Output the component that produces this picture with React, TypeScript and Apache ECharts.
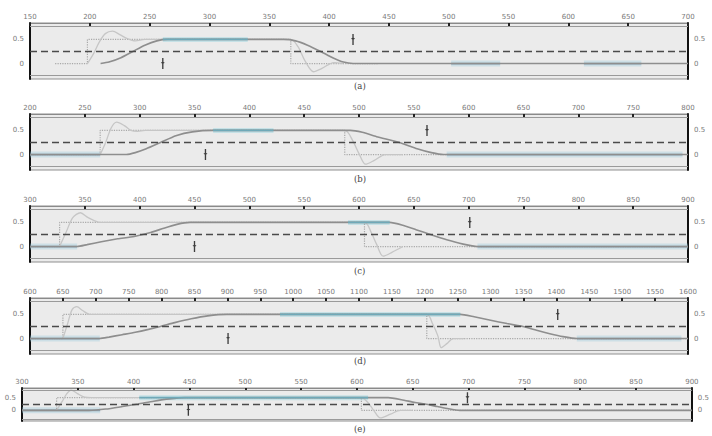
import React, { useEffect, useRef } from "react";
import * as echarts from "echarts";

// ---- data ----
const captions = ["(a)", "(b)", "(c)", "(d)", "(e)"];
const xMins = [150, 200, 300, 600, 300];
const xMaxs = [700, 800, 900, 1600, 900];
const levelValues = [0, 0.5];
const levelLabels = ["0", "0.5"];
const midLevel = 0.25;

const rampA = [[209,0],[216,0.03],[226,0.12],[236,0.25],[246,0.38],[256,0.47],[265,0.5],[362,0.5],[372,0.47],[382,0.38],[393,0.25],[403,0.12],[412,0.03],[420,0],[700,0]];
const oscA = [[198,0],[203,0.2],[208,0.45],[213,0.62],[219,0.67],[225,0.6],[231,0.52],[238,0.47],[246,0.5],[368,0.5],[374,0.35],[380,0.05],[387,-0.17],[394,-0.1],[404,0.02],[412,0]];
const refA = [[171,0],[198,0],[198,0.5],[368,0.5],[368,0],[441,0]];
const glowA = [[[261,0.5],[332,0.5]]];
const bandA = [[[502,0],[543,0]],[[613,0],[661,0]]];
const markA = [[261,0],[420,0.5]];

const rampB = [[200,0],[288,0],[296,0.04],[306,0.12],[319,0.25],[333,0.39],[348,0.47],[367,0.5],[492,0.5],[503,0.46],[516,0.37],[537,0.25],[553,0.12],[566,0.04],[577,0],[800,0]];
const oscB = [[264,0],[269,0.25],[274,0.55],[279,0.67],[286,0.6],[292,0.5],[298,0.48],[305,0.5],[487,0.5],[494,0.3],[500,0.02],[506,-0.2],[514,-0.12],[524,0],[540,0]];
const refB = [[200,0],[264,0],[264,0.5],[487,0.5],[487,0],[580,0]];
const glowB = [[[367,0.5],[422,0.5]]];
const bandB = [[[200,0],[264,0]],[[580,0],[795,0]]];
const markB = [[360,0],[562,0.5]];

const rampC = [[300,0],[343,0],[352,0.04],[365,0.1],[380,0.16],[395,0.21],[410,0.29],[422,0.38],[434,0.46],[446,0.5],[628,0.5],[640,0.44],[652,0.35],[665,0.25],[680,0.14],[695,0.05],[708,0],[900,0]];
const oscC = [[327,0],[333,0.3],[339,0.6],[346,0.7],[353,0.6],[364,0.5],[605,0.5],[611,0.3],[616,0.05],[622,-0.2],[630,-0.12],[640,0]];
const refC = [[300,0],[327,0],[327,0.5],[605,0.5],[605,0],[900,0]];
const glowC = [[[590,0.5],[628,0.5]]];
const bandC = [[[300,0],[343,0]],[[708,0],[900,0]]];
const markC = [[450,0],[701,0.5]];

const rampD = [[600,0],[706,0],[720,0.03],[740,0.08],[760,0.13],[780,0.19],[798,0.25],[820,0.33],[845,0.41],[870,0.47],[899,0.5],[1254,0.5],[1275,0.45],[1300,0.38],[1325,0.31],[1349,0.25],[1370,0.17],[1390,0.1],[1410,0.04],[1431,0],[1600,0]];
const oscD = [[650,0],[657,0.3],[664,0.6],[671,0.66],[680,0.58],[691,0.5],[1203,0.5],[1212,0.3],[1220,0.05],[1225,-0.19],[1234,-0.1],[1243,0],[1260,0]];
const refD = [[600,0],[650,0],[650,0.5],[1203,0.5],[1203,0],[1600,0]];
const glowD = [[[980,0.5],[1254,0.5]]];
const bandD = [[[600,0],[706,0]],[[1431,0],[1590,0]]];
const markD = [[901,0],[1402,0.5]];

const rampE = [[300,0],[360,0],[375,0.05],[390,0.15],[404,0.25],[418,0.36],[432,0.45],[446,0.5],[628,0.5],[640,0.42],[652,0.31],[661,0.25],[672,0.15],[682,0.06],[692,0],[900,0]];
const oscE = [[331,0],[336,0.35],[340,0.65],[344,0.8],[350,0.65],[356,0.52],[362,0.5],[604,0.5],[610,0.3],[615,0],[621,-0.3],[630,-0.15],[639,0],[650,0]];
const refE = [[300,0],[331,0],[331,0.5],[604,0.5],[604,0],[900,0]];
const glowE = [[[405,0.5],[610,0.5]]];
const bandE = [[[300,0],[370,0]]];
const markE = [[449,0],[699,0.5]];

const ramps = [rampA, rampB, rampC, rampD, rampE];
const oscs = [oscA, oscB, oscC, oscD, oscE];
const refs = [refA, refB, refC, refD, refE];
const glows = [glowA, glowB, glowC, glowD, glowE];
const bands = [bandA, bandB, bandC, bandD, bandE];
const marks = [markA, markB, markC, markD, markE];

// ---- layout ----
const gridTops = [23, 114, 206, 298, 388];
const gridHeights = [56, 56, 56, 56, 33];
const gridLefts = [30, 30, 30, 30, 22];
const gridRights = [24, 24, 24, 24, 12];
const yMins = [-0.32, -0.32, -0.32, -0.32, -0.42];
const yMaxs = [0.84, 0.84, 0.84, 0.84, 0.88];
const innerTop = [0.77, 0.77, 0.77, 0.77, 0.81];
const innerBottom = [-0.25, -0.25, -0.25, -0.25, -0.35];
const captionTops = [81, 174, 266, 356, 424];

const markerPath = "path://M2,0 L4,0 L4,5 L6,6 L4,7 L4,14 L2,14 L2,7 L0,6 L2,5 Z";

function buildOption() {
  const grid: any[] = [];
  const xAxis: any[] = [];
  const yAxis: any[] = [];
  const series: any[] = [];
  const title: any[] = [];
  const axisFont = { fontSize: 7, color: "#7a7a7a", fontFamily: "DejaVu Sans" };

  for (let i = 0; i < 5; i++) {
    grid.push({
      left: gridLefts[i], right: gridRights[i], top: gridTops[i], height: gridHeights[i],
      show: true, backgroundColor: "#ebebeb", borderColor: "#8f8f8f", borderWidth: 1,
    });
    xAxis.push({
      type: "value", gridIndex: i, position: "top", min: xMins[i], max: xMaxs[i], interval: 50,
      axisLine: { show: true, onZero: false, lineStyle: { color: "#8a8a8a", width: 1 } },
      axisTick: { show: true, inside: true, length: 3, lineStyle: { color: "#222", width: 2 } },
      axisLabel: {
        ...axisFont, margin: 3, showMinLabel: true, showMaxLabel: true,
        formatter: (v: number) => String(v),
      },
      splitLine: { show: false },
    });
    const yBase = {
      type: "value", gridIndex: i, min: yMins[i], max: yMaxs[i],
      axisLine: { show: true, onZero: false, lineStyle: { color: "#111", width: 2 } },
      axisTick: { show: false },
      splitLine: { show: false },
      axisLabel: {
        ...axisFont, margin: 6, customValues: levelValues,
        formatter: (v: number) => levelLabels[levelValues.indexOf(v)] ?? "",
      },
    };
    yAxis.push({ ...yBase, position: "left" });
    yAxis.push({ ...yBase, position: "right" });
    const yi = i * 2;

    bands[i].forEach((seg) => {
      series.push({
        type: "line", xAxisIndex: i, yAxisIndex: yi, data: seg, symbol: "none", silent: true,
        lineStyle: { color: "rgba(150,200,220,0.35)", width: 6 }, z: 1,
      });
      series.push({
        type: "line", xAxisIndex: i, yAxisIndex: yi, data: seg, symbol: "none", silent: true,
        lineStyle: { color: "#8aa2b2", width: 1.8 }, z: 2,
      });
    });
    glows[i].forEach((seg) => {
      series.push({
        type: "line", xAxisIndex: i, yAxisIndex: yi, data: seg, symbol: "none", silent: true,
        lineStyle: { color: "rgba(130,205,220,0.35)", width: 5 }, z: 1,
      });
      series.push({
        type: "line", xAxisIndex: i, yAxisIndex: yi, data: seg, symbol: "none", silent: true,
        lineStyle: { color: "#6fa9b8", width: 1.8 }, z: 4,
      });
    });
    series.push({
      type: "line", xAxisIndex: i, yAxisIndex: yi, data: refs[i], symbol: "none", silent: true,
      lineStyle: { color: "#a8a8a8", width: 1.2, type: "dotted" }, z: 2,
      markLine: {
        silent: true, symbol: "none", label: { show: false },
        data: [
          { yAxis: midLevel, lineStyle: { type: [7, 4], color: "#4a4a4a", width: 1.4 } },
          { yAxis: innerTop[i], lineStyle: { type: "solid", color: "#9a9a9a", width: 1 } },
          { yAxis: innerBottom[i], lineStyle: { type: "solid", color: "#9a9a9a", width: 1 } },
        ],
      },
    });
    series.push({
      type: "line", xAxisIndex: i, yAxisIndex: yi, data: oscs[i], symbol: "none", silent: true,
      smooth: 0.3, lineStyle: { color: "#c6c6c6", width: 1.3 }, z: 3,
    });
    series.push({
      type: "line", xAxisIndex: i, yAxisIndex: yi, data: ramps[i], symbol: "none", silent: true,
      smooth: 0.2, lineStyle: { color: "#8e8e8e", width: 1.6 }, z: 3,
    });
    series.push({
      type: "scatter", xAxisIndex: i, yAxisIndex: yi, data: marks[i], symbol: markerPath,
      symbolSize: [4, 11], itemStyle: { color: "#111" }, silent: true, z: 6,
    });
    title.push({
      text: captions[i], left: 354, top: captionTops[i], padding: 0,
      textStyle: { fontSize: 8.5, lineHeight: 10, fontWeight: "normal", fontFamily: "DejaVu Serif", color: "#444" },
    });
  }
  return { animation: false, backgroundColor: "#ffffff", title, grid, xAxis, yAxis, series };
}

export default function App() {
  const ref = useRef<HTMLDivElement>(null);
  useEffect(() => {
    document.body.style.margin = "0";
    if (!ref.current) return;
    const chart = echarts.init(ref.current, null, { renderer: "svg" });
    chart.setOption(buildOption() as any);
    return () => chart.dispose();
  }, []);
  return <div ref={ref} style={{ width: 712, height: 436 }} />;
}
